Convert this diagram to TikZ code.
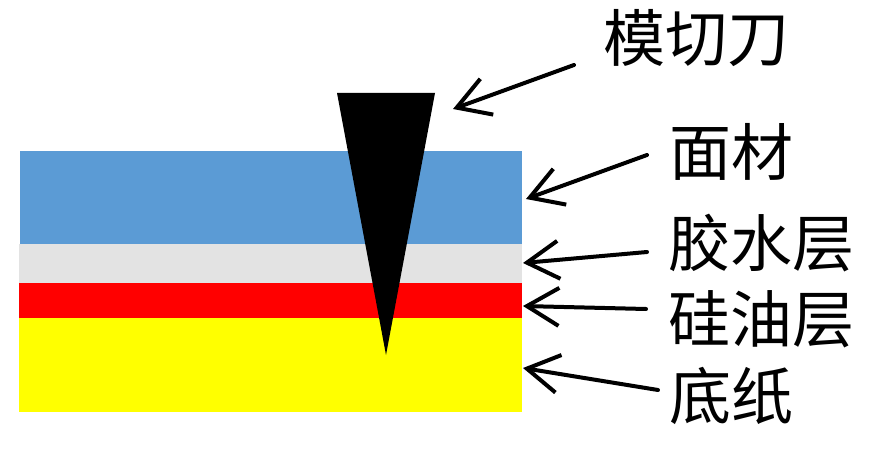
\documentclass[tikz,border=0pt]{standalone}
\usepackage{fontspec}
\newfontfamily\cjk{Noto Sans CJK SC}
\usetikzlibrary{arrows.meta}
\definecolor{faceblue}{HTML}{5B9BD5}
\definecolor{gluegrey}{HTML}{E3E3E3}
\definecolor{oilred}{HTML}{FF0000}
\definecolor{paperyellow}{HTML}{FFFF00}
\tikzset{
  lbl/.style={anchor=west,inner sep=0pt,font=\cjk\fontsize{62}{62}\selectfont},
  ptr/.style={line width=4pt,line cap=round,-{Straight Barb[length=32pt,width=38pt,line width=4pt]}}
}
\begin{document}
\begin{tikzpicture}[x=1pt,y=-1pt]
\useasboundingbox (0,0) rectangle (877,457);
% layers
\fill[faceblue] (20,151) rectangle (522,244);
\fill[gluegrey] (19,244) rectangle (522,283);
\fill[oilred] (19,283) rectangle (522,318);
\fill[paperyellow] (19,318) rectangle (522,412);
% blade
\fill[black] (337,93) -- (435,93) -- (386,355) -- cycle;
% labels
\node[lbl] (knife) at (603,38) {模切刀};
\node[lbl] (face) at (669,152) {面材};
\node[lbl] (glue) at (668,243) {胶水层};
\node[lbl] (oil) at (668,319) {硅油层};
\node[lbl] (paper) at (669,396) {底纸};
% arrow ends
\coordinate (k1) at (574,65);  \coordinate (k2) at (453,109);
\coordinate (f1) at (647,155); \coordinate (f2) at (526,199);
\coordinate (g1) at (647,252); \coordinate (g2) at (523,263);
\coordinate (o1) at (646,309); \coordinate (o2) at (523,306);
\coordinate (p1) at (658,390); \coordinate (p2) at (523,368);
\draw[ptr] (k1) -- (k2);
\draw[ptr] (f1) -- (f2);
\draw[ptr] (g1) -- (g2);
\draw[ptr] (o1) -- (o2);
\draw[ptr] (p1) -- (p2);
\end{tikzpicture}
\end{document}
